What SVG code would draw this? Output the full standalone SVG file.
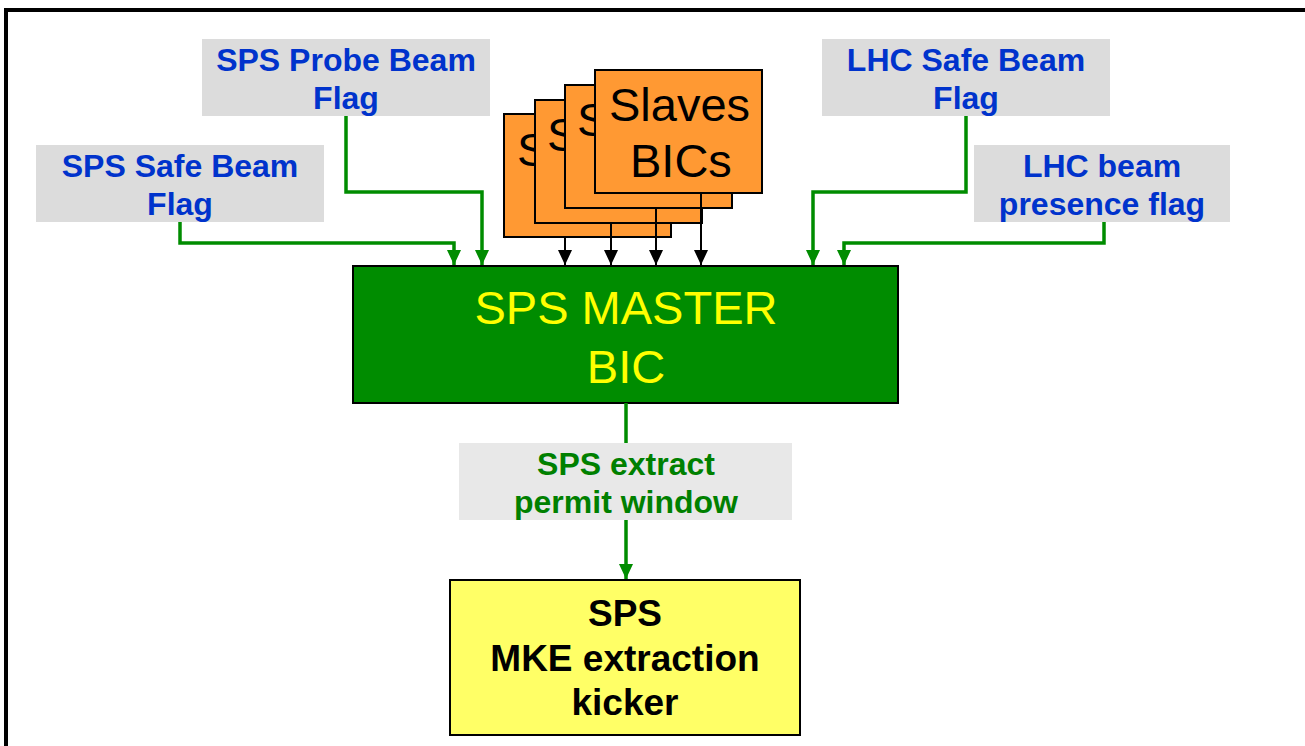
<svg xmlns="http://www.w3.org/2000/svg" width="1305" height="746" viewBox="0 0 1305 746">
<style>
.lbl{fill:#dcdcdc}
.lt{font-family:"Liberation Sans",Arial,sans-serif;font-weight:bold;font-size:32px;fill:#0033cc;text-anchor:middle}
.slave{fill:#ff9933;stroke:#000;stroke-width:2}
.st{font-family:"Liberation Sans",Arial,sans-serif;font-size:47px;fill:#000;text-anchor:start}
.g{fill:none;stroke:#008c00;stroke-width:3.5}
.k{fill:none;stroke:#000;stroke-width:2}
</style>
<defs>
<marker id="ag" markerWidth="15" markerHeight="14" refX="15" refY="7" orient="auto" markerUnits="userSpaceOnUse" viewBox="0 0 15 14">
<path d="M0,0 L15,7 L0,14 Z" fill="#008c00"/>
</marker>
<marker id="ak" markerWidth="15" markerHeight="14" refX="15" refY="7" orient="auto" markerUnits="userSpaceOnUse" viewBox="0 0 15 14">
<path d="M0,0 L15,7 L0,14 Z" fill="#000"/>
</marker>
</defs>
<rect x="0" y="0" width="1305" height="746" fill="#fff"/>
<rect x="6" y="10" width="1320" height="760" fill="none" stroke="#000" stroke-width="4"/>

<g id="label-sps-probe">
<rect class="lbl" x="202" y="39" width="288" height="77"/>
<text class="lt" x="346" y="71">SPS Probe Beam</text>
<text class="lt" x="346" y="109">Flag</text>
</g>
<g id="label-sps-safe">
<rect class="lbl" x="36" y="145" width="288" height="77"/>
<text class="lt" x="180" y="177">SPS Safe Beam</text>
<text class="lt" x="180" y="215">Flag</text>
</g>
<g id="label-lhc-safe">
<rect class="lbl" x="822" y="39" width="288" height="77"/>
<text class="lt" x="966" y="71">LHC Safe Beam</text>
<text class="lt" x="966" y="109">Flag</text>
</g>
<g id="label-lhc-presence">
<rect class="lbl" x="974" y="145" width="256" height="77"/>
<text class="lt" x="1102" y="177">LHC beam</text>
<text class="lt" x="1102" y="215">presence flag</text>
</g>

<g id="slaves">
<rect class="slave" x="504" y="114" width="167" height="123"/>
<text class="st" x="517" y="166">S</text>
<rect class="slave" x="535" y="100" width="167" height="123"/>
<text class="st" x="547" y="151">S</text>
<rect class="slave" x="565" y="85" width="167" height="123"/>
<text class="st" x="577" y="136">S</text>
<rect class="slave" x="595" y="70" width="167" height="123"/>
<text class="st" x="609" y="121">Slaves</text>
<text class="st" x="630" y="177">BICs</text>
</g>

<g id="master">
<rect x="353" y="266" width="545" height="137" fill="#008c00" stroke="#000" stroke-width="2"/>
<text x="626" y="324" font-family="Liberation Sans,Arial,sans-serif" font-size="47" fill="#ffff00" text-anchor="middle">SPS MASTER</text>
<text x="626" y="383" font-family="Liberation Sans,Arial,sans-serif" font-size="47" fill="#ffff00" text-anchor="middle">BIC</text>
</g>

<g id="connectors">
<path class="g" d="M180,222 V243 H454 V265" marker-end="url(#ag)"/>
<path class="g" d="M346,116 V192 H482 V265" marker-end="url(#ag)"/>
<path class="g" d="M966,116 V192 H813 V265" marker-end="url(#ag)"/>
<path class="g" d="M1104,222 V243 H844 V265" marker-end="url(#ag)"/>
<path class="k" d="M565,237 V265" marker-end="url(#ak)"/>
<path class="k" d="M611,223 V265" marker-end="url(#ak)"/>
<path class="k" d="M656,208 V265" marker-end="url(#ak)"/>
<path class="k" d="M701,193 V265" marker-end="url(#ak)"/>
<path class="g" d="M626,403 V443"/>
<path class="g" d="M626,520 V579" marker-end="url(#ag)"/>
</g>

<g id="label-extract">
<rect x="459" y="443" width="333" height="77" fill="#e8e8e8"/>
<text x="626" y="475" font-family="Liberation Sans,Arial,sans-serif" font-weight="bold" font-size="32" fill="#008000" text-anchor="middle">SPS extract</text>
<text x="626" y="513" font-family="Liberation Sans,Arial,sans-serif" font-weight="bold" font-size="32" fill="#008000" text-anchor="middle">permit window</text>
</g>

<g id="kicker">
<rect x="450" y="580" width="350" height="155" fill="#ffff66" stroke="#000" stroke-width="2"/>
<text x="625" y="626" font-family="Liberation Sans,Arial,sans-serif" font-weight="bold" font-size="37" fill="#000" text-anchor="middle">SPS</text>
<text x="625" y="671" font-family="Liberation Sans,Arial,sans-serif" font-weight="bold" font-size="37" fill="#000" text-anchor="middle">MKE extraction</text>
<text x="625" y="715" font-family="Liberation Sans,Arial,sans-serif" font-weight="bold" font-size="37" fill="#000" text-anchor="middle">kicker</text>
</g>
</svg>
